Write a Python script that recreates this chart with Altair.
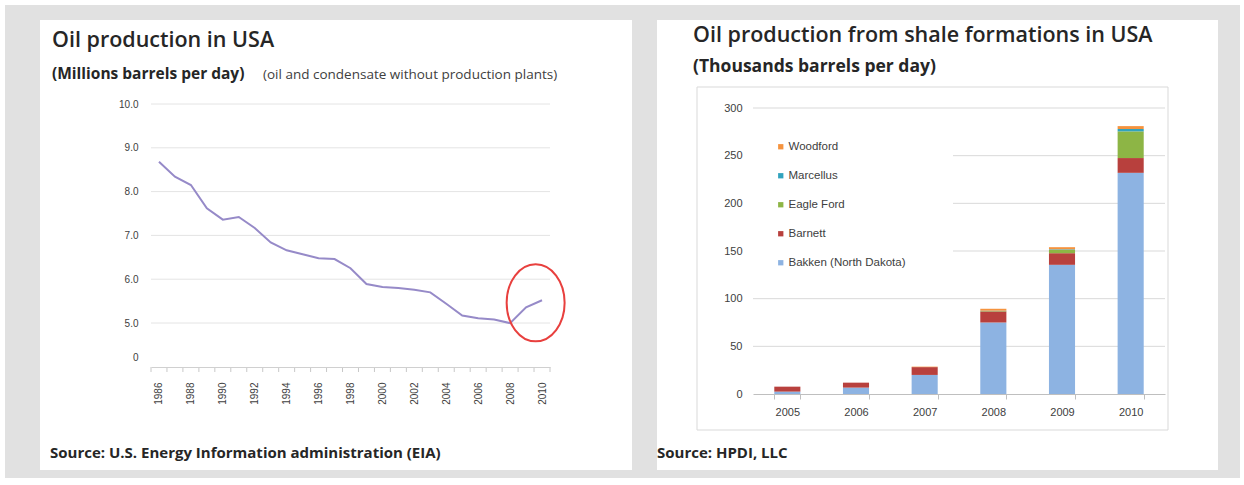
import altair as alt
import pandas as pd

# ---------------- data ----------------
years = list(range(1986, 2011))
us_oil = [8.68, 8.34, 8.15, 7.62, 7.36, 7.42, 7.17, 6.84, 6.66, 6.57, 6.48, 6.46,
          6.25, 5.89, 5.82, 5.80, 5.76, 5.70, 5.44, 5.17, 5.11, 5.08, 4.98, 5.36, 5.52]
left_y_ticks = [0, 5, 6, 7, 8, 9, 10]
left_x_labels = list(range(1986, 2011, 2))
highlight = {"x": [2009.6], "y": [5.46]}  # red circle annotation

shale_years = ["2005", "2006", "2007", "2008", "2009", "2010"]
bakken = [2.5, 6.7, 20.0, 75.0, 135.5, 232.0]
barnett = [5.2, 5.2, 8.2, 11.6, 12.2, 15.5]
eagle_ford = [0.0, 0.0, 0.0, 0.5, 3.5, 28.0]
marcellus = [0.0, 0.0, 0.0, 0.3, 0.6, 2.5]
woodford = [0.0, 0.0, 0.5, 2.0, 2.2, 3.0]
series_names = ["Bakken (North Dakota)", "Barnett", "Eagle Ford", "Marcellus", "Woodford"]
series_colors = ["#8db3e2", "#b8403d", "#8db545", "#31a3be", "#f5933e"]
right_y_ticks = [0, 50, 100, 150, 200, 250, 300]

W, H = 1244, 485
one = pd.DataFrame({"k": [0]})
TFONT = "Open Sans"
AFONT = "Liberation Sans"


def rect(x, x2, y, y2, fill, stroke=None):
    kw = dict(color=fill)
    if stroke:
        kw = dict(fill=fill, stroke=stroke, strokeWidth=1)
    return alt.Chart(one).mark_rect(**kw).encode(
        x=alt.value(x), x2=alt.value(x2), y=alt.value(y), y2=alt.value(y2))


def text(txt, x, y, size, weight="normal", color="#262626", font=TFONT):
    return alt.Chart(one).mark_text(
        text=txt, align="left", baseline="alphabetic", fontSize=size,
        fontWeight=weight, font=font, color=color).encode(
        x=alt.value(x), y=alt.value(y))


# ---------------- left chart ----------------
xs_left = alt.Scale(domain=[1985.5, 2010.5], range=[151, 550], nice=False, zero=False)
ys_left = alt.Scale(domain=[-0.3, 0, 5, 10], range=[367, 357, 323, 104], nice=False, zero=False)

ax_left_x = alt.Axis(orient="bottom", offset=-(H - 367), values=left_x_labels,
                     format="d", labelAngle=270, labelFlush=False, labelOverlap=False,
                     labelBound=False, ticks=False, grid=False, domain=True,
                     domainColor="#d0d0d0", labelPadding=15, labelFontSize=10,
                     labelColor="#404040", labelFont=AFONT, title=None, zindex=1)
ax_left_y = alt.Axis(orient="left", offset=-151, values=left_y_ticks,
                     labelExpr="datum.value == 0 ? '0' : format(datum.value, '.1f')",
                     domain=False, ticks=False, grid=False, labelPadding=13,
                     labelFontSize=10, labelColor="#404040", labelFont=AFONT,
                     labelFlush=False, title=None, zindex=1)

line_df = pd.DataFrame({"year": years, "value": us_oil})
grid_left_df = pd.DataFrame({"value": [v for v in left_y_ticks if v > 0]})
tick_left_df = pd.DataFrame({"year": [y - 0.5 for y in years] + [years[-1] + 0.5]})
hl_df = pd.DataFrame({"year": highlight["x"], "value": highlight["y"]})

grid_left = alt.Chart(grid_left_df).mark_rule(color="#e4e4e4", strokeWidth=1).encode(
    y=alt.Y("value:Q", scale=ys_left, axis=ax_left_y),
    x=alt.value(151), x2=alt.value(550))

ticks_left = alt.Chart(tick_left_df).mark_rule(color="#c8c8c8", strokeWidth=1).encode(
    x=alt.X("year:Q", scale=xs_left, axis=ax_left_x),
    y=alt.value(367), y2=alt.value(372))

line = alt.Chart(line_df).mark_line(color="#968ac8", strokeWidth=2).encode(
    x=alt.X("year:Q", scale=xs_left, axis=ax_left_x),
    y=alt.Y("value:Q", scale=ys_left, axis=ax_left_y))

ellipse = alt.Chart(hl_df).mark_point(
    shape="M -0.753 0 A 0.753 1 0 1 0 0.753 0 A 0.753 1 0 1 0 -0.753 0 Z",
    filled=False, size=77 * 77, stroke="#e8403e", strokeWidth=2, opacity=1).encode(
    x=alt.X("year:Q", scale=xs_left, axis=ax_left_x),
    y=alt.Y("value:Q", scale=ys_left, axis=ax_left_y))

left = alt.layer(grid_left, ticks_left, line, ellipse)

# ---------------- right chart ----------------
rows = []
for i, (name, vals) in enumerate(zip(series_names, [bakken, barnett, eagle_ford, marcellus, woodford])):
    for yr, v in zip(shale_years, vals):
        rows.append({"year": yr, "source": name, "value": v, "idx": i})
bar_df = pd.DataFrame(rows)
grid_right_df = pd.DataFrame({"value": [v for v in right_y_ticks if v > 0]})

xs_right = alt.Scale(domain=shale_years, range=[753, 1165], paddingInner=0.62, paddingOuter=0.31)
ys_right = alt.Scale(domain=[0, 300], range=[394, 108], nice=False, zero=False)

ax_right_x = alt.Axis(orient="bottom", offset=-(H - 394), labelAngle=0, tickBand="extent",
                      ticks=True, tickSize=5, tickColor="#bfbfbf", domainColor="#bfbfbf",
                      grid=False, labelPadding=7, labelFontSize=11, labelColor="#404040",
                      labelFont=AFONT, title=None, zindex=1)
ax_right_y = alt.Axis(orient="left", offset=-753, values=right_y_ticks, domain=False,
                      ticks=False, grid=False, labelPadding=11, labelFontSize=11,
                      labelColor="#404040", labelFont=AFONT, title=None, zindex=1)

grid_right = alt.Chart(grid_right_df).mark_rule(color="#d9d9d9", strokeWidth=1).encode(
    y=alt.Y("value:Q", scale=ys_right, axis=ax_right_y),
    x=alt.value(753), x2=alt.value(1165))

legend_bg = rect(753, 953, 128, 282, "white")

bars = alt.Chart(bar_df).mark_bar().encode(
    x=alt.X("year:N", scale=xs_right, axis=ax_right_x),
    y=alt.Y("value:Q", stack="zero", scale=ys_right, axis=ax_right_y),
    color=alt.Color("source:N",
                    scale=alt.Scale(domain=series_names[::-1], range=series_colors[::-1]),
                    legend=alt.Legend(orient="none", legendX=755, legendY=121, title=None,
                                      symbolType="square", symbolSize=28, labelFontSize=11.5,
                                      labelFont=AFONT, labelColor="#404040",
                                      rowPadding=16, padding=20,
                                      labelOffset=2, symbolStrokeWidth=0)),
    order=alt.Order("idx:Q", sort="ascending"))

right = alt.layer(grid_right, legend_bg, bars)

# ---------------- composition ----------------
chart = alt.layer(
    rect(5, 1240, 5, 478, "#e1e1e1"),
    rect(40, 632, 20, 470, "white"),
    rect(657, 1218, 20, 470, "white"),
    rect(697, 1168, 87, 430, "white", stroke="#d9d9d9"),
    left,
    right,
    text("Oil production  in USA", 52, 47, 21.5, 600),
    text("(Millions  barrels per day)", 52, 79, 15.5, "bold"),
    text("(oil and condensate  without production plants)", 263, 79, 13.5, "normal", "#404040"),
    text("Source: U.S. Energy Information administration  (EIA)", 50, 458, 15, "bold"),
    text("Oil production  from shale formations  in USA", 693, 42, 21.5, 600),
    text("(Thousands barrels per day)", 693, 72, 17.5, "bold"),
    text("Source: HPDI, LLC", 657, 458, 15, "bold"),
).resolve_scale(x="independent", y="independent").properties(
    width=W, height=H, padding=0,
    autosize=alt.AutoSizeParams(type="none"),
    background="white",
).configure_view(strokeWidth=0)

chart.save("out.html", embed_options={"renderer": "svg", "actions": False})
